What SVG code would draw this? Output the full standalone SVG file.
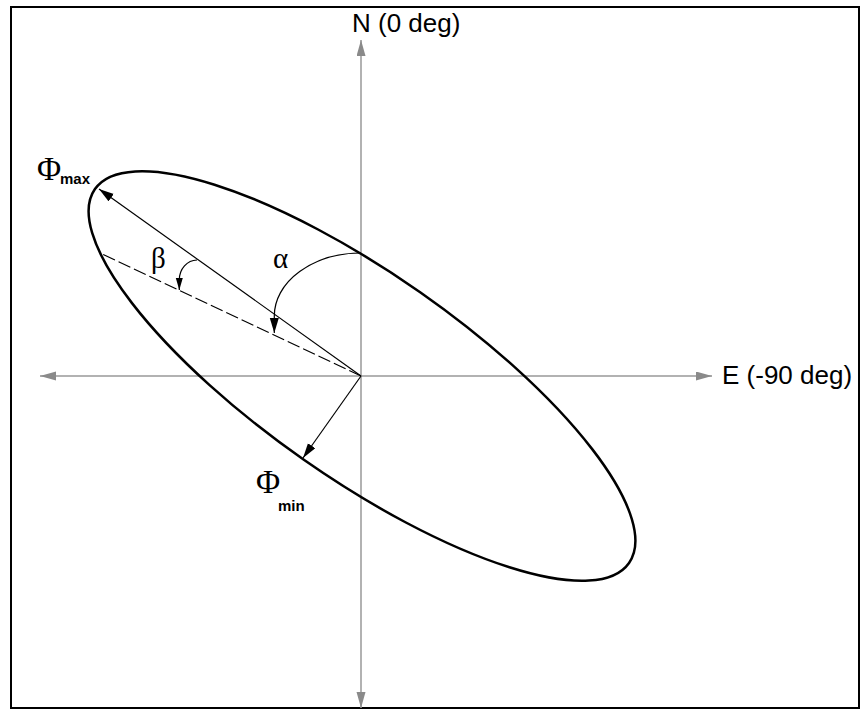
<svg xmlns="http://www.w3.org/2000/svg" width="862" height="711" viewBox="0 0 862 711">
<style>
.axis{stroke:#999;stroke-width:1.5;fill:none}
.thin{stroke:#000;stroke-width:1.2;fill:none}
.lbl{font-family:"Liberation Sans",Arial,sans-serif;font-size:26px;fill:#000}
.greek{font-family:"Liberation Serif","Times New Roman",serif;fill:#000}
.sub{font-family:"Liberation Sans",Arial,sans-serif;font-size:15px;font-weight:bold;fill:#000}
</style>
<defs>
<marker id="ga" markerUnits="userSpaceOnUse" markerWidth="16" markerHeight="10" refX="16" refY="4.5" orient="auto"><path d="M0,0 L16,4.5 L0,9 Z" fill="#8a8a8a"/></marker>
<marker id="ba" markerUnits="userSpaceOnUse" markerWidth="15" markerHeight="10" refX="15" refY="4.5" orient="auto"><path d="M0,0 L15,4.5 L0,9 Z" fill="#000"/></marker>
<marker id="bs" markerUnits="userSpaceOnUse" markerWidth="12" markerHeight="8" refX="12" refY="3.5" orient="auto"><path d="M0,0 L12,3.5 L0,7 Z" fill="#000"/></marker>
</defs>
<rect x="11" y="7" width="848" height="701" fill="#fff" stroke="#000" stroke-width="2"/>
<g id="axes">
<line class="axis" x1="361" y1="376" x2="361" y2="40" marker-end="url(#ga)"/>
<line class="axis" x1="361" y1="376" x2="361" y2="708" marker-end="url(#ga)"/>
<line class="axis" x1="361" y1="376" x2="40" y2="376" marker-end="url(#ga)"/>
<line class="axis" x1="361" y1="376" x2="712" y2="376" marker-end="url(#ga)"/>
</g>
<g id="ellipse">
<ellipse cx="362" cy="376" rx="326" ry="102" transform="rotate(35 362 376)" fill="none" stroke="#000" stroke-width="2.5"/>
</g>
<g id="connectors">
<line class="thin" x1="361" y1="376" x2="99" y2="189" marker-end="url(#ba)"/>
<line class="thin" x1="361" y1="376" x2="303" y2="458" marker-end="url(#ba)"/>
<line class="thin" x1="361" y1="376" x2="100" y2="253" stroke-dasharray="13,4"/>
<path class="thin" d="M361,253 A87,63 0 0 0 274.3,316 L274.3,333" marker-end="url(#ba)"/>
<path class="thin" d="M197,260 A18,20 0 0 0 179.3,280 L179.3,290" marker-end="url(#bs)"/>
</g>
<g id="labels">
<text class="lbl" x="352" y="32">N (0 deg)</text>
<text class="lbl" x="722" y="384">E (-90 deg)</text>
<text class="greek" x="37" y="180" font-size="33">Φ</text>
<text class="sub" x="60" y="184">max</text>
<text class="greek" x="256" y="493" font-size="33">Φ</text>
<text class="sub" x="278" y="511">min</text>
<text class="greek" x="273" y="268" font-size="29">α</text>
<text class="greek" x="151" y="268" font-size="29">β</text>
</g>
</svg>
